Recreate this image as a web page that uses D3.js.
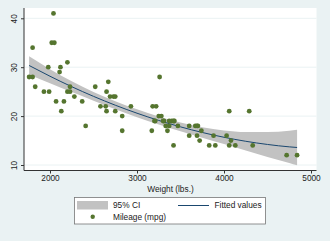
<!DOCTYPE html>
<html>
<head>
<meta charset="utf-8">
<script src="https://cdn.jsdelivr.net/npm/d3@7"></script>
<style>
  body { margin: 0; background: #eaf2f3; }
  text { font-family: "Liberation Sans", Arial, sans-serif; }
</style>
</head>
<body>
<div id="chart"></div>
<script>
// scatter data (weight in lbs, mileage in mpg)
var weight = [2930, 3350, 2640, 3250, 4080, 3670, 2230, 3280, 3880, 3400,
  4330, 3900, 4290, 2110, 3690, 3180, 3220, 2750, 3430, 2120,
  3600, 3600, 3740, 1800, 2650, 4840, 4720, 3830, 2580, 4060,
  3720, 3370, 4130, 2830, 4060, 3310, 3300, 3690, 3370, 2730,
  4030, 3260, 1800, 2200, 2520, 3330, 3700, 3470, 3210, 3200,
  3420, 2690, 2830, 2070, 2650, 2370, 2020, 2280, 2750, 2130,
  2230, 1760, 1980, 3420, 1830, 2050, 2410, 2200, 2670, 2160,
  2040, 1930, 1990, 3170];
var mpg = [22, 17, 22, 20, 15, 18, 26, 20, 16, 19,
  14, 14, 21, 29, 16, 22, 22, 24, 19, 30,
  18, 16, 17, 28, 21, 12, 12, 14, 22, 14,
  15, 18, 14, 20, 21, 19, 19, 18, 19, 24,
  16, 28, 34, 25, 26, 18, 18, 18, 19, 19,
  19, 24, 17, 23, 25, 23, 35, 24, 21, 21,
  25, 28, 30, 14, 26, 35, 18, 31, 27, 23,
  41, 25, 25, 17];

// fitted values and 95% CI
var fitWeight = [1760, 2000, 2250, 2500, 2750, 3000, 3250, 3500, 3750, 4000, 4250, 4500, 4750, 4840];
var fitValue = [30.35, 28.15, 26.01, 24.04, 22.23, 20.59, 19.11, 17.80, 16.65, 15.67, 14.85, 14.20, 13.71, 13.58];
var ciLow = [28.45, 26.70, 24.91, 23.14, 21.41, 19.79, 18.29, 16.90, 15.57, 14.27, 12.95, 11.65, 10.41, 9.93];
var ciHigh = [32.25, 29.60, 27.11, 24.94, 23.05, 21.39, 19.93, 18.70, 17.73, 17.07, 16.75, 16.75, 17.01, 17.23];

var xTicks = [2000, 3000, 4000, 5000];
var yTicks = [10, 20, 30, 40];

var W = 330, H = 241;
var svg = d3.select("#chart").append("svg")
  .attr("width", W)
  .attr("height", H);

svg.append("rect").attr("width", W).attr("height", H).style("fill", "#eaf2f3");

var x = d3.scaleLinear().domain([2000, 5000]).range([50, 311]);
var y = d3.scaleLinear().domain([10, 40]).range([165, 18.3]);

// plot region
var px0 = 24, px1 = 316.5, py0 = 8, py1 = 170.5;
svg.append("rect")
  .attr("x", px0).attr("y", py0)
  .attr("width", px1 - px0).attr("height", py1 - py0)
  .style("fill", "white");

// grid
svg.selectAll(".grid").data(yTicks).enter().append("line")
  .attr("x1", px0).attr("x2", px1)
  .attr("y1", function(d) { return y(d); })
  .attr("y2", function(d) { return y(d); })
  .attr("stroke", "#eaf2f3").attr("stroke-width", 1);

// CI band
var idx = d3.range(fitWeight.length);
var area = d3.area()
  .x(function(i) { return x(fitWeight[i]); })
  .y0(function(i) { return y(ciLow[i]); })
  .y1(function(i) { return y(ciHigh[i]); })
  .curve(d3.curveMonotoneX);
svg.append("path").datum(idx).attr("d", area).style("fill", "#c2c2c2");

// fitted line
var line = d3.line()
  .x(function(i) { return x(fitWeight[i]); })
  .y(function(i) { return y(fitValue[i]); })
  .curve(d3.curveMonotoneX);
svg.append("path").datum(idx).attr("d", line)
  .style("fill", "none").attr("stroke", "#1a476f").attr("stroke-width", 1);

// points
svg.selectAll(".pt").data(d3.range(weight.length)).enter().append("circle")
  .attr("cx", function(i) { return x(weight[i]); })
  .attr("cy", function(i) { return y(mpg[i]); })
  .attr("r", 2.4)
  .style("fill", "#55752f");

// axes
var xAxis = svg.append("g")
  .attr("transform", "translate(0," + py1 + ")")
  .call(d3.axisBottom(x).tickValues(xTicks).tickFormat(d3.format("d"))
    .tickSize(3).tickPadding(2).tickSizeOuter(0));
xAxis.select(".domain").attr("d", "M" + px0 + ",0H" + px1);

var yAxis = svg.append("g")
  .attr("transform", "translate(" + px0 + ",0)")
  .call(d3.axisLeft(y).tickValues(yTicks).tickFormat(d3.format("d"))
    .tickSize(3).tickPadding(2).tickSizeOuter(0));
yAxis.select(".domain").attr("d", "M0," + py0 + "V" + py1);
yAxis.selectAll(".tick text")
  .attr("text-anchor", "middle")
  .attr("transform", "rotate(-90)")
  .attr("x", 0).attr("dy", 0)
  .attr("y", -7);

svg.selectAll(".tick text").style("font-size", "8.3px").style("fill", "#222")
  .style("font-family", "Liberation Sans, Arial, sans-serif");
svg.selectAll(".domain, .tick line").attr("stroke", "#333");

svg.append("text")
  .attr("x", 170.5).attr("y", 189).attr("dy", "0.35em")
  .attr("text-anchor", "middle")
  .style("font-size", "8.3px").style("fill", "#222")
  .text("Weight (lbs.)");

// legend
var lg = svg.append("g");
lg.append("rect").attr("x", 74.5).attr("y", 197.5).attr("width", 191).attr("height", 26.5)
  .style("fill", "white").attr("stroke", "#777").attr("stroke-width", 0.8);
lg.append("rect").attr("x", 77).attr("y", 201).attr("width", 31).attr("height", 8.5)
  .style("fill", "#c2c2c2");
lg.append("text").attr("x", 113).attr("y", 205.5).attr("dy", "0.35em")
  .style("font-size", "8.3px").style("fill", "#222").text("95% CI");
lg.append("line").attr("x1", 178).attr("x2", 209).attr("y1", 205.5).attr("y2", 205.5)
  .attr("stroke", "#1a476f").attr("stroke-width", 1);
lg.append("text").attr("x", 214.5).attr("y", 205.5).attr("dy", "0.35em")
  .style("font-size", "8.3px").style("fill", "#222").text("Fitted values");
lg.append("circle").attr("cx", 92.7).attr("cy", 216.8).attr("r", 2.2).style("fill", "#55752f");
lg.append("text").attr("x", 113).attr("y", 216.8).attr("dy", "0.35em")
  .style("font-size", "8.3px").style("fill", "#222").text("Mileage (mpg)");
</script>
</body>
</html>
